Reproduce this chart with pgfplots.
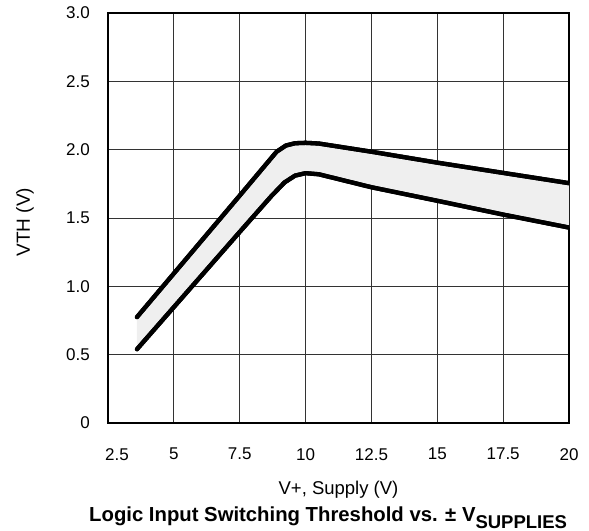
\documentclass[border=0pt]{standalone}
\usepackage{pgfplots}
\pgfplotsset{compat=1.18}
\usepackage{fontspec}
\setmainfont{Liberation Sans}
\usepgfplotslibrary{fillbetween}
\definecolor{bandgray}{HTML}{EFEFEF}

\begin{document}
\fontsize{17bp}{20bp}\selectfont
\begin{tikzpicture}
\begin{axis}[
    scale only axis,
    width=461bp,
    height=410bp,
    xmin=2.5, xmax=20,
    ymin=0, ymax=3,
    xtick={2.5,5,7.5,10,12.5,15,17.5,20},
    xticklabels={\hspace{18bp}2.5,5,7.5,10,12.5,15,17.5,20},
    ytick={0,0.5,1,1.5,2,2.5,3},
    yticklabels={0,0.5,1.0,1.5,2.0,2.5,3.0},
    grid=major,
    major grid style={line width=0.9bp, draw=black!80},
    axis line style={line width=1.4bp},
    major tick length=0pt,
    xticklabel style={anchor=north, inner sep=0pt, yshift=-25bp},
    yticklabel style={anchor=east, inner sep=0pt, xshift=-18bp},
    /pgf/number format/assume math mode=true,
]

\addplot[name path=upper, line width=4.3bp, black, line join=round, line cap=round] coordinates {
(3.6,0.775) (7.5,1.664) (8.9,1.985) (9.25,2.03) (9.6,2.047) (10,2.05) (10.5,2.045)
(12.5,1.985) (15,1.905) (17.5,1.83) (20,1.755)
};
\addplot[name path=lower, line width=4.3bp, black, line join=round, line cap=round] coordinates {
(3.6,0.54) (7.5,1.398) (8.7,1.66) (9.2,1.76) (9.6,1.81) (10,1.828) (10.5,1.82)
(12.5,1.725) (15,1.626) (17.5,1.525) (20,1.43)
};
\addplot[bandgray] fill between[of=upper and lower];

% redraw curves above the band
\addplot[line width=4.3bp, black, line join=round, line cap=round] coordinates {
(3.6,0.775) (7.5,1.664) (8.9,1.985) (9.25,2.03) (9.6,2.047) (10,2.05) (10.5,2.045)
(12.5,1.985) (15,1.905) (17.5,1.83) (20,1.755)
};
\addplot[line width=4.3bp, black, line join=round, line cap=round] coordinates {
(3.6,0.54) (7.5,1.398) (8.7,1.66) (9.2,1.76) (9.6,1.81) (10,1.828) (10.5,1.82)
(12.5,1.725) (15,1.626) (17.5,1.525) (20,1.43)
};
\end{axis}

\node[rotate=90, inner sep=0pt, font=\fontsize{19bp}{22bp}\selectfont] at (-83bp,201bp) {VTH (V)};
\node[anchor=north, inner sep=0pt, font=\fontsize{18.5bp}{22bp}\selectfont] at (230.5bp,-58bp) {V+, Supply (V)};
\node[anchor=north west, inner sep=0pt, font=\fontsize{20.3bp}{24bp}\selectfont\bfseries] at (-19bp,-84bp)
  {Logic Input Switching Threshold vs. ± V\raisebox{-6.5bp}{\fontsize{18.5bp}{22bp}\selectfont SUPPLIES}};
% page: 589 x 531, plot area 461 x 410 with lower left at origin
\pgfresetboundingbox
\path[use as bounding box] (-108bp,-108bp) rectangle (481bp,423bp);
\end{tikzpicture}
\end{document}
